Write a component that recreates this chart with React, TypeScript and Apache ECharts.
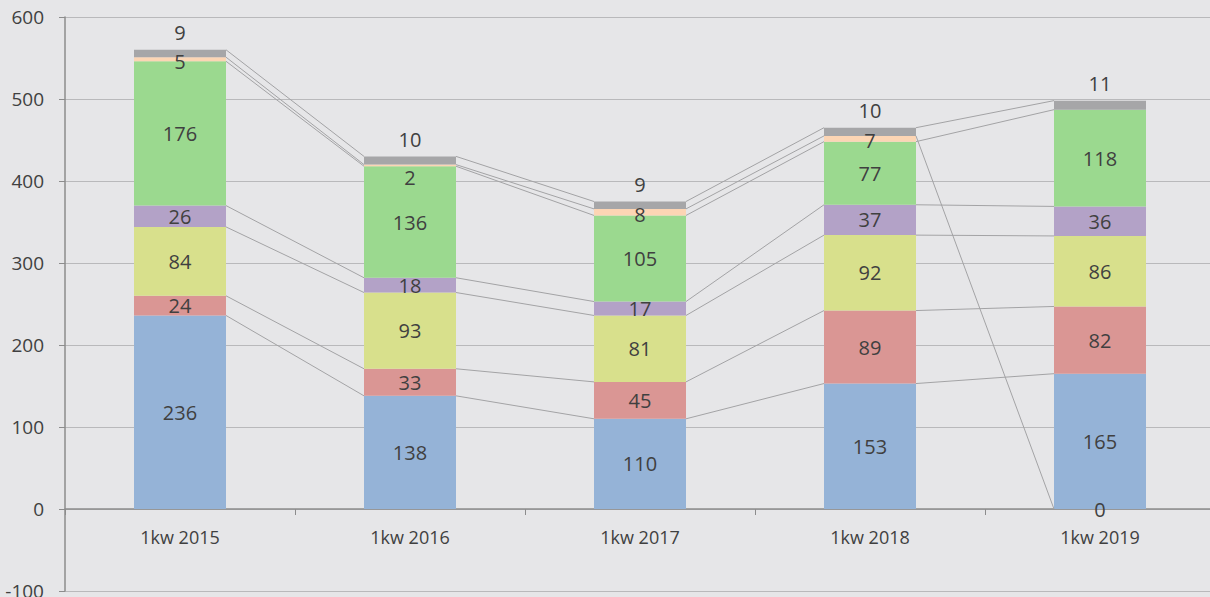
import React, { useEffect, useRef } from "react";
import * as echarts from "echarts";

const categories = ["1kw 2015", "1kw 2016", "1kw 2017", "1kw 2018", "1kw 2019"];
const blueValues = [236, 138, 110, 153, 165];
const redValues = [24, 33, 45, 89, 82];
const yellowValues = [84, 93, 81, 92, 86];
const purpleValues = [26, 18, 17, 37, 36];
const greenValues = [176, 136, 105, 77, 118];
const peachValues: (number | null)[] = [5, 2, 8, 7, null];
const grayValues = [9, 10, 9, 10, 11];
const yTicks = { min: -100, max: 600, interval: 100 };

const stackValues: (number | null)[][] = [
  blueValues,
  redValues,
  yellowValues,
  purpleValues,
  greenValues,
  peachValues,
  grayValues,
];
const colors = ["#95b3d7", "#da9694", "#d8e08c", "#b3a2c7", "#9bd98f", "#fcd5b4", "#a6a6a8"];
const peachLabelShift = [2, 12, 2, 2, 0];

const FONT = "'Open Sans', 'Noto Sans', sans-serif";
const TEXT = "#404040";
const AXIS = "#8c8c8c";

function topOf(s: number, j: number): number {
  if (stackValues[s][j] == null) return 0;
  let sum = 0;
  for (let k = 0; k <= s; k++) sum += stackValues[k][j] ?? 0;
  return sum;
}

export default function App() {
  const ref = useRef<HTMLDivElement>(null);
  useEffect(() => {
    document.body.style.margin = "0";
    if (!ref.current) return;
    const chart = echarts.init(ref.current, null, { renderer: "svg" });
    const barSeries = stackValues.map((vals, s) => {
      const isGray = s === 6;
      const isPeach = s === 5;
      return {
        type: "bar",
        stack: "total",
        barWidth: "40%",
        xAxisIndex: 0,
        itemStyle: { color: colors[s] },
        label: {
          show: true,
          position: isGray ? "top" : "inside",
          distance: isGray ? 7 : 5,
          color: TEXT,
          fontSize: 20,
          fontFamily: FONT,
        },
        data: vals.map((v, i) => {
          const item: any = { value: v == null ? "-" : v };
          if (isPeach) item.label = { offset: [0, peachLabelShift[i]] };
          return item;
        }),
      };
    });
    chart.setOption({
      animation: false,
      backgroundColor: "#e6e6e8",
      grid: {
        left: 65,
        top: 17,
        width: 1150,
        height: 574,
        containLabel: false,
        outerBoundsMode: "none",
      },
      xAxis: [
        {
          type: "category",
          data: categories,
          position: "bottom",
          axisLine: { onZero: false, show: false },
          axisTick: { show: false },
          axisLabel: { color: TEXT, fontSize: 18, fontFamily: FONT, margin: -63 },
        },
        {
          type: "category",
          data: categories,
          position: "bottom",
          axisLine: { onZero: true, lineStyle: { color: AXIS, width: 1.5 } },
          axisTick: { show: true, length: 6, lineStyle: { color: AXIS } },
          axisLabel: { show: false },
        },
      ],
      yAxis: {
        type: "value",
        min: yTicks.min,
        max: yTicks.max,
        interval: yTicks.interval,
        axisLine: { show: true, lineStyle: { color: AXIS, width: 1.5 } },
        axisTick: { show: true, length: 6, lineStyle: { color: AXIS } },
        axisLabel: { color: TEXT, fontSize: 19, fontFamily: FONT, margin: 21 },
        splitLine: { show: true, lineStyle: { color: "#b9b9bb", width: 1 } },
      },
      series: [
        ...barSeries,
        {
          type: "custom",
          silent: true,
          z: 5,
          xAxisIndex: 0,
          encode: { x: 0, y: 1 },
          data: categories.map((_, i) => [i, 0]),
          renderItem: (params: any, api: any) => {
            const i = api.value(0) as number;
            const children: any[] = [];
            const hw = (api.size([1, 0])[0] * 0.4) / 2;
            if (i < categories.length - 1) {
              for (let s = 0; s < stackValues.length; s++) {
                const p1 = api.coord([i, topOf(s, i)]);
                const p2 = api.coord([i + 1, topOf(s, i + 1)]);
                children.push({
                  type: "line",
                  shape: { x1: p1[0] + hw, y1: p1[1], x2: p2[0] - hw, y2: p2[1] },
                  style: { stroke: "#a3a3a5", lineWidth: 1 },
                });
              }
            }
            for (let s = 0; s < stackValues.length; s++) {
              if (stackValues[s][i] == null) {
                const p = api.coord([i, 0]);
                children.push({
                  type: "text",
                  x: p[0],
                  y: p[1],
                  style: {
                    text: "0",
                    fill: TEXT,
                    fontSize: 20,
                    fontFamily: FONT,
                    align: "center",
                    verticalAlign: "middle",
                  },
                });
              }
            }
            return { type: "group", children };
          },
        },
      ],
    });
    return () => chart.dispose();
  }, []);
  return <div ref={ref} style={{ width: 1210, height: 597 }} />;
}
